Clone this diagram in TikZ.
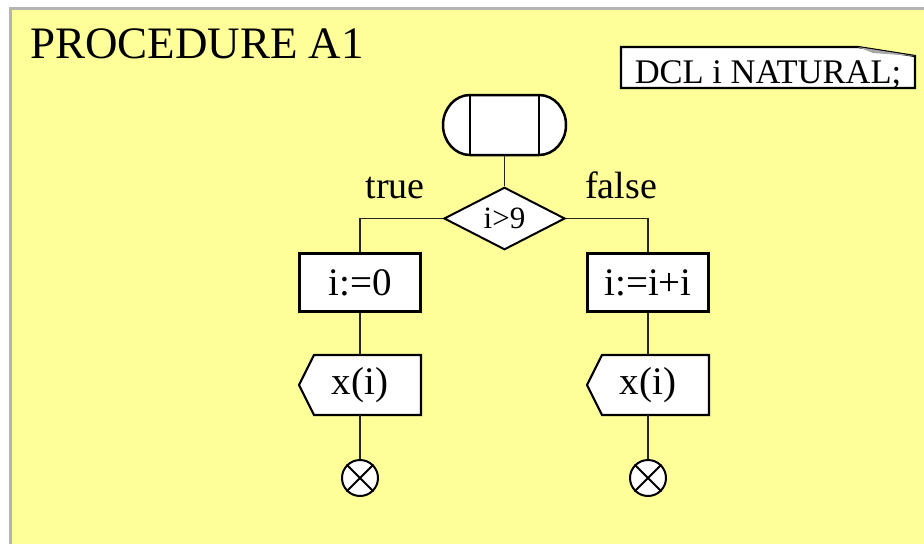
\documentclass[tikz,border=0pt]{standalone}
\usepackage{fontspec}
\setmainfont{Liberation Serif}
\usetikzlibrary{shapes.geometric,backgrounds,calc}
\definecolor{bgyellow}{HTML}{FFFF99}
\definecolor{framegray}{HTML}{B4B4B4}
\begin{document}
\begin{tikzpicture}[x=1pt,y=-1pt,
  conn/.style={line width=1.2pt, draw=black!85},
  procbox/.style={draw, line width=2.8pt, fill=white, minimum width=121pt,
    minimum height=58pt, inner sep=0pt, font=\fontsize{39}{39}\selectfont},
  sigbox/.style={draw=none, minimum width=122pt, minimum height=60pt,
    inner sep=0pt, outer sep=0pt, font=\fontsize{39}{39}\selectfont},
  sigline/.style={draw, line width=2.2pt, fill=white, line join=miter},
  decision/.style={diamond, draw, line width=2pt, fill=white, minimum width=121pt,
    minimum height=59pt, inner sep=0pt, font=\fontsize{31}{31}\selectfont},
  endnode/.style={circle, draw, line width=2pt, fill=white, minimum size=36pt, inner sep=0pt},
  lbl/.style={font=\fontsize{38}{38}\selectfont, anchor=base, inner sep=0pt}]
\useasboundingbox (0,0) rectangle (924,544);

% title and declaration
\node[anchor=base west, inner sep=0pt, font=\fontsize{45}{45}\selectfont] (title) at (30,58) {PROCEDURE A1};
\node[inner sep=0pt, anchor=base, font=\fontsize{34.5}{34.5}\selectfont] (dcl) at (768,83) {DCL i NATURAL;};

% start symbol
\node[draw, line width=2.5pt, minimum width=69pt, minimum height=60pt, inner sep=0pt, outer sep=0pt] (start) at (504.5,125) {};

% decision
\node[decision] (dec) at (504.5,218.5) {i>9};

% assignment boxes
\node[procbox] (b1) at (360,282.5) {i:=0};
\node[procbox] (b2) at (648,282.5) {i:=i+i};

% output signals
\node[sigbox] (o1) at (360,385) {x(i)};
\node[sigbox] (o2) at (648,385) {x(i)};

% end circles
\node[endnode] (e1) at (360,478) {};
\node[endnode] (e2) at (648,478) {};
\foreach \e in {e1,e2}{
  \draw[line width=2pt] (\e.north west) -- (\e.south east);
  \draw[line width=2pt] (\e.north east) -- (\e.south west);
}

% labels
\node[lbl] (ltrue) at (395,198) {true};
\node[lbl] (lfalse) at (621,198) {false};

\begin{scope}[on background layer]
  \fill[bgyellow] (10.5,8.5) rectangle (924,544);
  \draw[framegray, line width=3pt] (10.5,544) -- (10.5,8.5) -- (924,8.5);
  % declaration box
  \draw[line width=2.2pt, fill=white, line join=miter] (621,47) -- (858,47) -- (915,56) -- (915,88) -- (621,88) -- cycle;
  \fill[black!35] (858,47) -- (915,56) -- (873,53) -- cycle;
  % start capsule ends
  \draw[line width=2.5pt, fill=white] (start.north west)
     arc[start angle=90, end angle=270, x radius=27pt, y radius=30pt]
     -- (start.south east)
     arc[start angle=-90, end angle=90, x radius=27pt, y radius=30pt] -- cycle;
  % signal outlines
  \foreach \o in {o1,o2}{
    \draw[sigline] (\o.north east) -- ($(\o.north west)+(15,0)$) -- (\o.west)
       -- ($(\o.south west)+(15,0)$) -- (\o.south east) -- cycle;
  }
  % connectors
  \draw[conn] (start.south) -- (dec.north);
  \draw[conn] (dec.west) -| (b1.north);
  \draw[conn] (dec.east) -| (b2.north);
  \draw[conn] (b1.south) -- (o1.north);
  \draw[conn] (b2.south) -- (o2.north);
  \draw[conn] (o1.south) -- (e1.north);
  \draw[conn] (o2.south) -- (e2.north);
\end{scope}
\end{tikzpicture}
\end{document}
